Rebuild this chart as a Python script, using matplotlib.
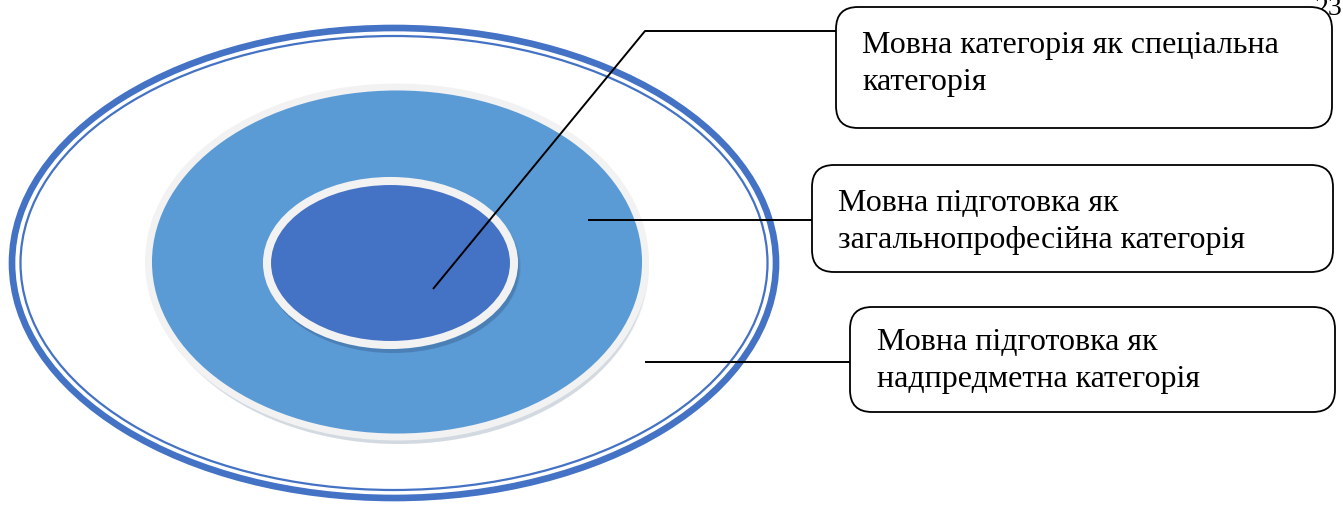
import matplotlib
matplotlib.use("Agg")
import matplotlib.pyplot as plt
from matplotlib.patches import Ellipse, FancyBboxPatch

# labels for the three levels (inner -> outer)
labels = [
    "Мовна категорія як спеціальна\nкатегорія",
    "Мовна підготовка як\nзагальнопрофесійна категорія",
    "Мовна підготовка як\nнадпредметна категорія",
]
page_number = "23"

# layout, in pixel coordinates of the 1343x506 picture
W, H = 1343, 506
boxes = [(836, 8, 1332, 129), (812, 166, 1333, 273), (850, 308, 1335, 413)]
text_xy = [(862, 64), (838, 222), (877, 361)]
leaders = [
    [(433, 290), (645, 32), (836, 32)],
    [(588, 221), (812, 221)],
    [(645, 363), (850, 363)],
]

fig = plt.figure(figsize=(W / 100, H / 100), dpi=100)
ax = fig.add_axes([0, 0, 1, 1])
ax.set_xlim(0, W)
ax.set_ylim(H, 0)
ax.axis("off")

# outer double ring
ax.add_patch(Ellipse((394, 264), 764, 470, fill=False, ec="#4472C4", lw=4.8, zorder=1))
ax.add_patch(Ellipse((394, 264), 747, 454, fill=False, ec="#4472C4", lw=1.6, zorder=1))

# soft shadows
for k, a in enumerate([0.10, 0.12, 0.16]):
    ax.add_patch(Ellipse((399, 268 + k), 500 - 2 * k, 354 - 2 * k, fc="#7f93a8", ec="none",
                         alpha=a, zorder=2))
    ax.add_patch(Ellipse((393, 268 + k), 256 - 2 * k, 172 - 2 * k, fc="#2f4f80", ec="none",
                         alpha=a, zorder=4))

# middle disc
ax.add_patch(Ellipse((397, 263), 497, 350, fc="#5B9BD5", ec="#F2F2F2", lw=5.0, zorder=3))
# inner disc
ax.add_patch(Ellipse((390.5, 264), 247, 164, fc="#4472C4", ec="#F2F2F2", lw=5.8, zorder=5))

# leader lines
for pts in leaders:
    xs, ys = zip(*pts)
    ax.plot(xs, ys, color="black", lw=1.4, zorder=6, solid_capstyle="butt")

# label boxes
for (x0, y0, x1, y1), (tx, ty), lab in zip(boxes, text_xy, labels):
    ax.add_patch(FancyBboxPatch((x0, y0), x1 - x0, y1 - y0,
                                boxstyle="round,pad=0,rounding_size=22",
                                fc="white", ec="black", lw=1.3, zorder=7))
    ax.text(tx, ty, lab, family="Liberation Serif", fontsize=23, va="center", ha="left",
            linespacing=1.4, zorder=8)

ax.text(1343, 15, page_number, family="Liberation Serif", fontsize=20, ha="right",
        va="baseline", zorder=6)

fig.savefig("out.png", dpi=100)
